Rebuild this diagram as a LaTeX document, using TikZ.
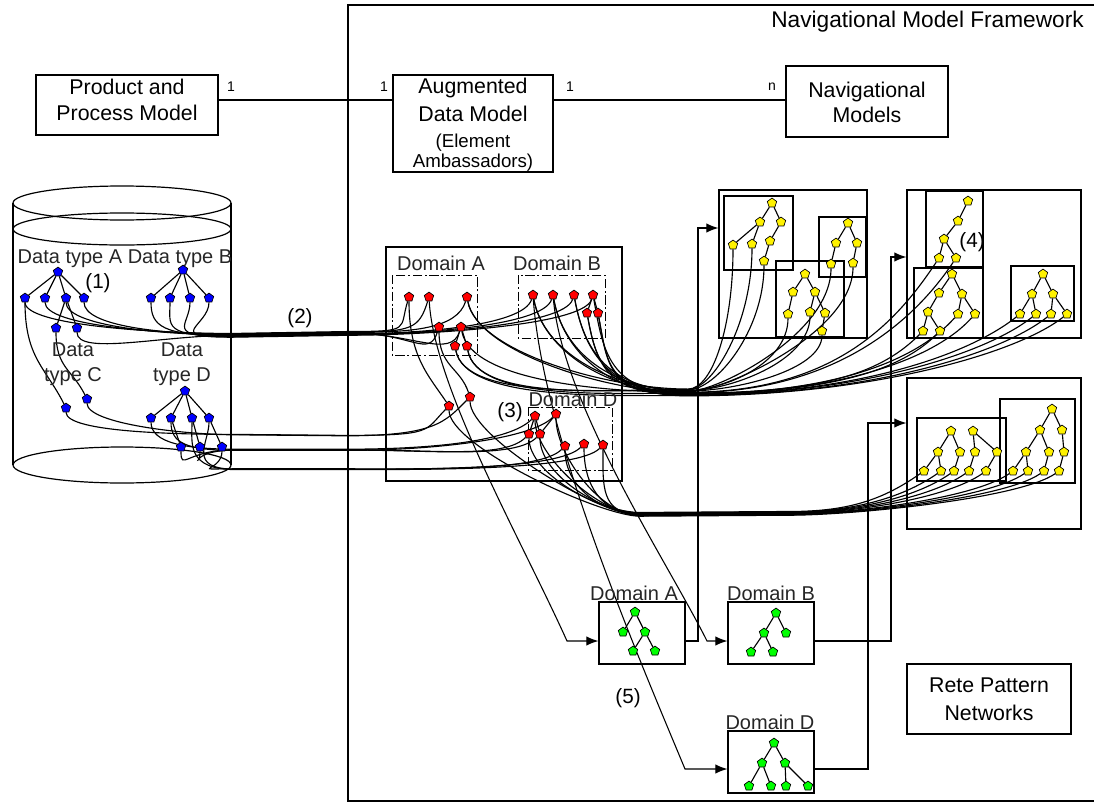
\documentclass[tikz,border=0pt]{standalone}
\usepackage{fontspec}
\setmainfont{Liberation Sans}
\usetikzlibrary{shapes.geometric,arrows.meta}
\pgfdeclarelayer{wires}
\pgfsetlayers{wires,main}
\begin{document}
\begin{tikzpicture}[x=0.75pt,y=-0.75pt,
  frame/.style={draw,line width=0.9pt},
  plainbox/.style={draw,line width=0.9pt,inner sep=0pt},
  btext/.style={anchor=base,inner sep=0pt,font=\fontsize{16}{19}\selectfont},
  stext/.style={anchor=base,inner sep=0pt,font=\fontsize{14}{16}\selectfont},
  wire/.style={line width=0.85pt},
  tedge/.style={line width=0.85pt},
  arr/.style={line width=0.8pt,-{Latex[length=9pt,width=7pt]}},
  tnode/.style={regular polygon,regular polygon sides=5,draw,line width=0.5pt,inner sep=0pt,minimum size=7.4pt},
  bn/.style={tnode,fill=blue},
  rn/.style={tnode,fill=red},
  yn/.style={tnode,fill=yellow},
  gn/.style={tnode,fill=green},
  dlbl/.style={inner sep=0pt,font=\fontsize{15}{18}\selectfont,text=black!85},
  tag/.style={inner sep=0pt,font=\fontsize{15.5}{18}\selectfont},
  small/.style={inner sep=0pt,font=\fontsize{10.5}{12}\selectfont},
  dashbox/.style={draw,line width=0.75pt,dash pattern=on 7pt off 2pt on 1.5pt off 2pt},
]
\useasboundingbox (0,0) rectangle (1094,803);

% ---------- framework border and title ----------
\draw[frame] (1094,5) -- (348,5) -- (348,801) -- (1094,801);
\node[anchor=east,inner sep=0pt,font=\fontsize{17}{20}\selectfont] (nmf) at (1084,22) {Navigational Model Framework};

% ---------- model boxes ----------
\node[plainbox,minimum width=136.5pt,minimum height=45pt] (ppm) at (127,105) {};
\node[btext] (ppm1) at (127,94) {Product and};
\node[btext] (ppm2) at (127,120) {Process Model};

\node[plainbox,minimum width=120pt,minimum height=72.75pt] (adm) at (473,123.5) {};
\node[btext] (adm1) at (473,93) {Augmented};
\node[btext] (adm2) at (473,121) {Data Model};
\node[stext] (adm3) at (473,147) {(Element};
\node[stext] (adm4) at (473,167) {Ambassadors)};

\node[plainbox,minimum width=121.5pt,minimum height=53.25pt] (nav) at (867,101.5) {};
\node[btext] (nav1) at (867,97) {Navigational};
\node[btext] (nav2) at (867,122) {Models};

\node[plainbox,minimum width=123pt,minimum height=52.5pt] (rete) at (989,699) {};
\node[btext] (rete1) at (989,692) {Rete Pattern};
\node[btext] (rete2) at (989,720) {Networks};

\coordinate (rowA) at (300,100);
\draw[wire] (ppm.east |- rowA) -- (adm.west |- rowA);
\draw[wire] (adm.east |- rowA) -- (nav.west |- rowA);
\node[small] (m1) at (231,87) {1};
\node[small] (m2) at (384,87) {1};
\node[small] (m3) at (570,87) {1};
\node[small] (m4) at (772,87) {n};

% ---------- database cylinder ----------
\draw[frame] (13,203) -- (13,465) (231,203) -- (231,465);
\draw[frame] (122,203) ellipse [x radius=81.75pt,y radius=12.75pt];
\draw[frame] (122,229) ellipse [x radius=81.75pt,y radius=12pt];
\draw[frame] (122,465) ellipse [x radius=81.75pt,y radius=13.5pt];

\node[dlbl] (lA) at (70,259) {Data type A};
\node[dlbl] (lB) at (180,259) {Data type B};
\node[dlbl,align=center,font=\fontsize{15}{18.5}\selectfont] (lC) at (73,364) {Data\\type C};
\node[dlbl,align=center,font=\fontsize{15}{18.5}\selectfont] (lD) at (182,364) {Data\\type D};

% blue data trees
\foreach \n/\x/\y in {ba0/58/272, ba1/25/298, ba2/45/298, ba3/66/298, ba4/84/298, ba5/56/328, ba6/77/328,
  bb0/183/270, bb1/151/298, bb2/170/298, bb3/190/298, bb4/209/298,
  bc1/66/408, bc2/87/399,
  bd0/185/391, bd1/151/418, bd2/171/418, bd3/192/418, bd4/209/418, bd5/181/447, bd6/200/447, bd7/222/447}
  \node[bn] (\n) at (\x,\y) {};

% ---------- domain overview (red) ----------
\draw[frame] (386,247) rectangle (622,481);
\draw[dashbox] (392,275) rectangle (477,355);
\draw[dashbox] (518,275) rectangle (605,338);
\draw[dashbox] (528,407) rectangle (612,470);
\node[dlbl] (dA) at (441,263) {Domain A};
\node[dlbl] (dB) at (557,263) {Domain B};
\node[dlbl] (dD) at (573,399) {Domain D};

\foreach \n/\x/\y in {ra1/409/297, ra2/429/297, ra3/467/297, ra4/439/327, ra5/461/327, ra6/455/346, ra7/467/346,
  ra8/449/406, ra9/470/397,
  rb1/533/295, rb2/553/295, rb3/574/295, rb4/593/295, rb5/587/313, rb6/598/313,
  rd1/535/416, rd2/556/414, rd3/529/434, rd4/540/434, rd5/565/446, rd6/584/444, rd7/603/445}
  \node[rn] (\n) at (\x,\y) {};

% ---------- navigational model boxes (yellow) ----------
\node[plainbox,minimum width=111pt,minimum height=111pt] (yb1) at (793,264) {};
\draw[frame] (724,196) rectangle (793,270);
\draw[frame] (776,261) rectangle (844,337);
\draw[frame] (819,217) rectangle (866,277);
\node[plainbox,minimum width=130.5pt,minimum height=111pt] (yb2) at (994,264) {};
\draw[frame] (926,191) rectangle (983,267);
\draw[frame] (914,268) rectangle (983,338);
\draw[frame] (1011,266) rectangle (1074,321);
\node[plainbox,minimum width=130.5pt,minimum height=113.25pt] (yb3) at (994,453.5) {};
\draw[frame] (917,418) rectangle (1006,481);
\draw[frame] (1000,399) rectangle (1075,483);

\foreach \n/\x/\y in {y1r/772/203, y1a/760/222, y1b/781/222, y1c/733/245, y1d/752/244, y1e/770/241, y1f/764/261,
  y2r/805/274, y2a/793/292, y2b/815/292, y2c/788/314, y2d/810/312, y2e/825/313, y2f/822/331,
  y3r/848/223, y3a/836/243, y3b/857/243, y3c/831/264, y3d/853/263,
  y4r/968/201, y4a/958/221, y4b/944/239, y4c/939/258, y4d/956/258,
  y5r/952/274, y5a/939/293, y5b/962/294, y5c/928/312, y5d/958/314, y5e/975/314, y5f/923/331, y5g/940/331,
  y6r/1043/274, y6a/1032/294, y6b/1053/294, y6c/1020/314, y6d/1036/314, y6e/1051/314, y6f/1067/314,
  y7r/951/431, y7a/938/452, y7b/960/452, y7c/924/471, y7d/941/471, y7e/954/471,
  y8r/973/431, y8a/975/452, y8b/997/452, y8c/969/471, y8d/986/471,
  y9r/1052/409, y9a/1040/430, y9b/1062/430, y9c/1026/452, y9d/1049/452, y9e/1064/452,
  y9f/1013/471, y9g/1028/471, y9h/1044/471, y9i/1059/471}
  \node[yn] (\n) at (\x,\y) {};

% ---------- rete networks (green) ----------
\node[plainbox,minimum width=64.5pt,minimum height=46.5pt] (ga) at (642,633) {};
\node[plainbox,minimum width=64.5pt,minimum height=46.5pt] (gb) at (771,633) {};
\node[plainbox,minimum width=64.5pt,minimum height=46.5pt] (gd) at (771,762) {};
\node[dlbl] (gla) at (634,593) {Domain A};
\node[dlbl] (glb) at (771,593) {Domain B};
\node[dlbl] (gld) at (770,722) {Domain D};
\foreach \n/\x/\y in {ga1/635/612, ga2/623/632, ga3/645/632, ga4/633/651, ga5/655/651,
  gb1/776/613, gb2/764/633, gb3/786/633, gb4/751/652, gb5/773/652,
  gd1/774/743, gd2/762/763, gd3/785/763, gd4/749/786, gd5/771/786, gd6/786/786, gd7/808/786}
  \node[gn] (\n) at (\x,\y) {};

% ---------- step tags ----------
\node[tag] (t1) at (98,283) {(1)};
\node[tag] (t2) at (300,318) {(2)};
\node[tag] (t3) at (510,412) {(3)};
\node[tag] (t4) at (972,242) {(4)};
\node[tag] (t5) at (628,698) {(5)};

% ---------- bundle waypoints ----------
\coordinate (K1) at (232,333);  \coordinate (K1b) at (352,331);
\coordinate (Ka) at (236,434);  \coordinate (Ka2) at (345,435);
\coordinate (Kb) at (236,448);  \coordinate (Kb2) at (345,448);
\coordinate (Kc) at (236,466);  \coordinate (Kc2) at (345,466);
\coordinate (K3) at (688,392);
\coordinate (K4) at (640,514);  \coordinate (K4b) at (790,513);
\coordinate (G1) at (567,641);
\coordinate (G2) at (707,641);
\coordinate (G3) at (685,769);
\coordinate (P1) at (698,641);  \coordinate (Q1) at (698,228);
\coordinate (P2) at (891,641);  \coordinate (Q2) at (891,257);
\coordinate (P3) at (868,769);  \coordinate (Q3) at (868,423);

\begin{pgfonlayer}{wires}
% tree edges
\foreach \a/\b in {ba0/ba1, ba0/ba2, ba0/ba3, ba0/ba4, ba3/ba5, ba3/ba6,
  bb0/bb1, bb0/bb2, bb0/bb3, bb0/bb4,
  bd0/bd1, bd0/bd2, bd0/bd3, bd0/bd4, bd2/bd5, bd3/bd6, bd4/bd7,
  ra5/ra6, ra5/ra7, rb4/rb5, rb4/rb6, rd1/rd3, rd1/rd4, rd2/rd4,
  y1r/y1a, y1r/y1b, y1a/y1c, y1a/y1d, y1b/y1e, y1e/y1f,
  y2r/y2a, y2r/y2b, y2a/y2c, y2b/y2d, y2b/y2e, y2e/y2f,
  y3r/y3a, y3r/y3b, y3a/y3c, y3b/y3d,
  y4r/y4a, y4a/y4b, y4b/y4c, y4b/y4d,
  y5r/y5a, y5r/y5b, y5a/y5c, y5c/y5f, y5c/y5g, y5b/y5d, y5b/y5e,
  y6r/y6a, y6r/y6b, y6a/y6c, y6a/y6d, y6b/y6e, y6b/y6f,
  y7r/y7a, y7r/y7b, y7a/y7c, y7a/y7d, y7b/y7e,
  y8r/y8a, y8r/y8b, y8a/y8c, y8b/y8d,
  y9r/y9a, y9r/y9b, y9a/y9c, y9a/y9d, y9b/y9e, y9c/y9f, y9c/y9g, y9d/y9h, y9e/y9i,
  ga1/ga2, ga1/ga3, ga3/ga4, ga3/ga5,
  gb1/gb2, gb1/gb3, gb2/gb4, gb2/gb5,
  gd1/gd2, gd1/gd3, gd2/gd4, gd2/gd5, gd3/gd6, gd3/gd7}
  \draw[tedge] (\a) -- (\b);
\draw[tedge] (ba1) .. controls +(0,60) and +(-20,-40) .. (bc1);
\draw[tedge] (ba5) .. controls +(0,40) and +(-15,-30) .. (bc2);
\draw[tedge] (ra1) .. controls +(0,60) and +(-20,-30) .. (ra8);
\draw[tedge] (ra4) .. controls +(0,40) and +(-10,-30) .. (ra9);

% data types to domain elements, upper bundle
\foreach \s/\t [count=\i] in {ba1/ra1, ba2/ra2, ba4/ra3, ba3/ra4, ba6/ra5, bb1/rb1, bb2/rb2, bb3/rb3, bb4/rb4}
  \draw[wire] (\s) .. controls +(0,28) and +(-70,0) .. ([yshift=-\i*0.35pt]K1)
     -- ([yshift=-\i*0.35pt]K1b) .. controls +(60,0) and +(-10,32) .. (\t);

% data types to domain elements, lower bundles
\foreach \s/\t/\k [count=\i] in {bc1/ra8/Ka, bc2/ra9/Ka, bd1/rd1/Kb, bd5/rd3/Kb, bd6/rd4/Kb, bd2/rd2/Kb,
  bd7/rd5/Kc, bd4/rd6/Kc, bd3/rd7/Kc}
  \draw[wire] (\s) .. controls +(0,25) and +(-50,0) .. ([yshift=-\i*0.3pt]\k)
     -- ([yshift=-\i*0.3pt]\k2) .. controls +(90,0) and +(-25,25) .. (\t);

% domain elements to navigational models (boxes 1 and 2)
\foreach \s/\t/\ca/\cx/\cy [count=\i] in {ra3/y1c/25/0/80, ra6/y1d/25/0/80, ra7/y1f/28/0/70,
  rb1/y2c/35/0/50, rb2/y2d/40/0/50, rb3/y2f/45/0/40, rb5/y3c/30/0/70, rb6/y3d/35/0/70,
  ra5/y4c/150/-40/60, ra3/y4d/150/-40/60, ra7/y5f/140/-40/40, rb1/y5g/140/-40/40,
  rb4/y5d/150/-40/45, rb3/y5e/150/-40/45, rb6/y6c/170/-50/40, rb5/y6d/170/-50/40,
  ra6/y6e/180/-50/40, rb2/y6f/180/-50/40}
  \draw[wire] (\s) .. controls +(10,55) and +(-80,0) .. ([yshift=-\i*0.3pt+2.5pt]K3)
     .. controls +(\ca,0) and +(\cx,\cy) .. (\t);

% domain elements to navigational models (box 3)
\foreach \s/\t [count=\i] in {rd3/y7c, rd4/y7d, rd5/y7e, rd6/y8c, rd7/y8d, rd1/y9f, rd2/y9g, ra9/y9h, ra8/y9i}
  \draw[wire] (\s) .. controls +(0,40) and +(-40,0) .. ([yshift=-\i*0.35pt+1.5pt]K4)
     -- ([yshift=-\i*0.35pt+1.5pt]K4b) .. controls +(60,0) and +(-40,28) .. (\t);

% domain elements to rete networks
\draw[arr] (ra2) .. controls +(5,90) and +(-45,-100) .. (G1) -- (ga.west |- G1);
\draw[arr] (rb2) .. controls +(10,110) and +(-40,-80) .. (G2) -- (gb.west |- G2);
\draw[arr] (rb1) .. controls +(10,140) and +(-50,-120) .. (G3) -- (gd.west |- G3);

% rete networks to navigational models
\draw[arr] (ga.east |- P1) -- (P1) -- (Q1) -- (yb1.west |- Q1);
\draw[arr] (gb.east |- P2) -- (P2) -- (Q2) -- (yb2.west |- Q2);
\draw[arr] (gd.east |- P3) -- (P3) -- (Q3) -- (yb3.west |- Q3);
\end{pgfonlayer}
\end{tikzpicture}
\end{document}
